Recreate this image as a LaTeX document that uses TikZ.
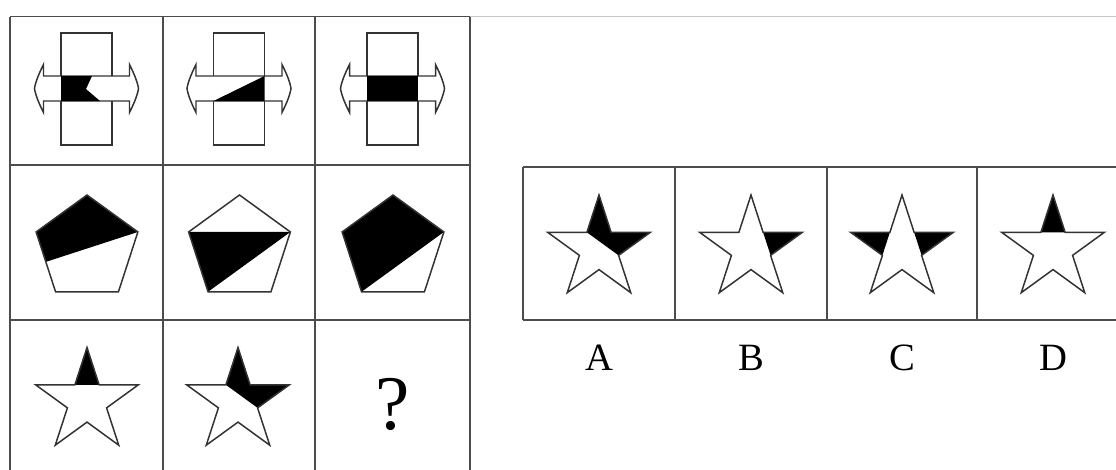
\documentclass[tikz,border=0pt]{standalone}
\usepackage{fontspec}
\setmainfont{Liberation Serif}
\usepackage{tikz}
\usetikzlibrary{calc}
\tikzset{
gridline/.style={
draw=black!70,
line width=0.9pt
},
faintline/.style={
draw=black!22,
line width=0.9pt
},
outline/.style={
draw=black!80,
line width=0.85pt,
line join=miter
},
blk/.style={
fill=black
},
optlabel/.style={
font=\fontsize{22}{26}\selectfont,
inner sep=0pt
},
qmark/.style={
font=\fontsize{44}{48}\selectfont,
inner sep=0pt
},
fivestar/.pic={
\draw[outline] (270:54)--(306:20.6)--(342:54)--(18:20.6)--(54:54)--(90:20.6)
--(126:54)--(162:20.6)--(198:54)--(234:20.6)--cycle;
},
fivegon/.pic={
\draw[outline] (270:53.5)--(342:53.5)--(54:53.5)--(126:53.5)--(198:53.5)--cycle;
},
barframe/.pic={
\draw[outline,fill=white] (-25.5,-55.5) rectangle (25.5,56.5);
\draw[outline,fill=white] (-43,-12.5) -- (43,-12.5) -- (43,-24)
.. controls (47,-16) and (51,-7) .. (52,0)
.. controls (51,7) and (47,16) .. (43,24) -- (43,12.5) -- (-43,12.5) -- (-43,24)
.. controls (-47,16) and (-51,7) .. (-52,0)
.. controls (-51,-7) and (-47,-16) .. (-43,-24) -- cycle;
}
}

\begin{document}
\begin{tikzpicture}[x=0.02cm,y=-0.02cm]
\useasboundingbox (0,0) rectangle (1116,470);

% question grid
\draw[faintline] (470,16.5) -- (1116,16.5);
\foreach \gx in {10,163,315,470}
\draw[gridline] (\gx,16.5) -- (\gx,470);
\foreach \gy in {16.5,165,320}
\draw[gridline] (10,\gy) -- (470,\gy);

% row 1
\begin{scope}[shift={(86.5,88.5)}]
\pic{barframe};
\fill[blk] (-25.5,-12.5) -- (5.5,-12.5) -- (-0.5,0.5) -- (13.5,12.5) -- (-25.5,12.5) -- cycle;
\end{scope}
\begin{scope}[shift={(239,88.5)}]
\pic{barframe};
\fill[blk] (-25.5,12.5) -- (25.5,-12.5) -- (25.5,12.5) -- cycle;
\end{scope}
\begin{scope}[shift={(392.5,88.5)}]
\pic{barframe};
\fill[blk] (-25.5,-12.5) rectangle (25.5,12.5);
\end{scope}

% row 2
\begin{scope}[shift={(87,248.5)}]
\fill[blk] (270:53.5) -- (342:53.5) -- (162:43.3) -- (198:53.5) -- cycle;
\pic{fivegon};
\end{scope}
\begin{scope}[shift={(239.5,248.5)}]
\fill[blk] (198:53.5) -- (342:53.5) -- (126:53.5) -- cycle;
\pic{fivegon};
\end{scope}
\begin{scope}[shift={(393,248.5)}]
\fill[blk] (270:53.5) -- (342:53.5) -- (126:53.5) -- (198:53.5) -- cycle;
\pic{fivegon};
\end{scope}

% row 3
\begin{scope}[shift={(87,401.5)}]
\fill[blk] (270:54) -- (306:20.6) -- (234:20.6) -- cycle;
\pic{fivestar};
\end{scope}
\begin{scope}[shift={(238,401.5)}]
\fill[blk] (270:54) -- (306:20.6) -- (342:54) -- (18:20.6) -- (234:20.6) -- cycle;
\pic{fivestar};
\end{scope}
\node[qmark] (ask) at (393,404) {?};

% answer options
\draw[gridline] (523,167) -- (1116,167);
\draw[gridline] (523,320) -- (1116,320);
\foreach \bx in {523,675,827,977}
\draw[gridline] (\bx,167) -- (\bx,320);

\begin{scope}[shift={(599,249)}]
\fill[blk] (270:54) -- (306:20.6) -- (342:54) -- (18:20.6) -- (234:20.6) -- cycle;
\pic{fivestar};
\end{scope}
\begin{scope}[shift={(751,249)}]
\fill[blk] (306:20.6) -- (342:54) -- (18:20.6) -- cycle;
\pic{fivestar};
\end{scope}
\begin{scope}[shift={(902,249)}]
\fill[blk] (306:20.6) -- (342:54) -- (18:20.6) -- cycle;
\fill[blk] (234:20.6) -- (198:54) -- (162:20.6) -- cycle;
\pic{fivestar};
\end{scope}
\begin{scope}[shift={(1053,249)}]
\fill[blk] (270:54) -- (306:20.6) -- (234:20.6) -- cycle;
\pic{fivestar};
\end{scope}

\foreach \cx/\lab in {599/A,751/B,902/C,1053/D}
\node[optlabel] (opt\lab) at (\cx,358) {\lab};
\end{tikzpicture}
\end{document}
